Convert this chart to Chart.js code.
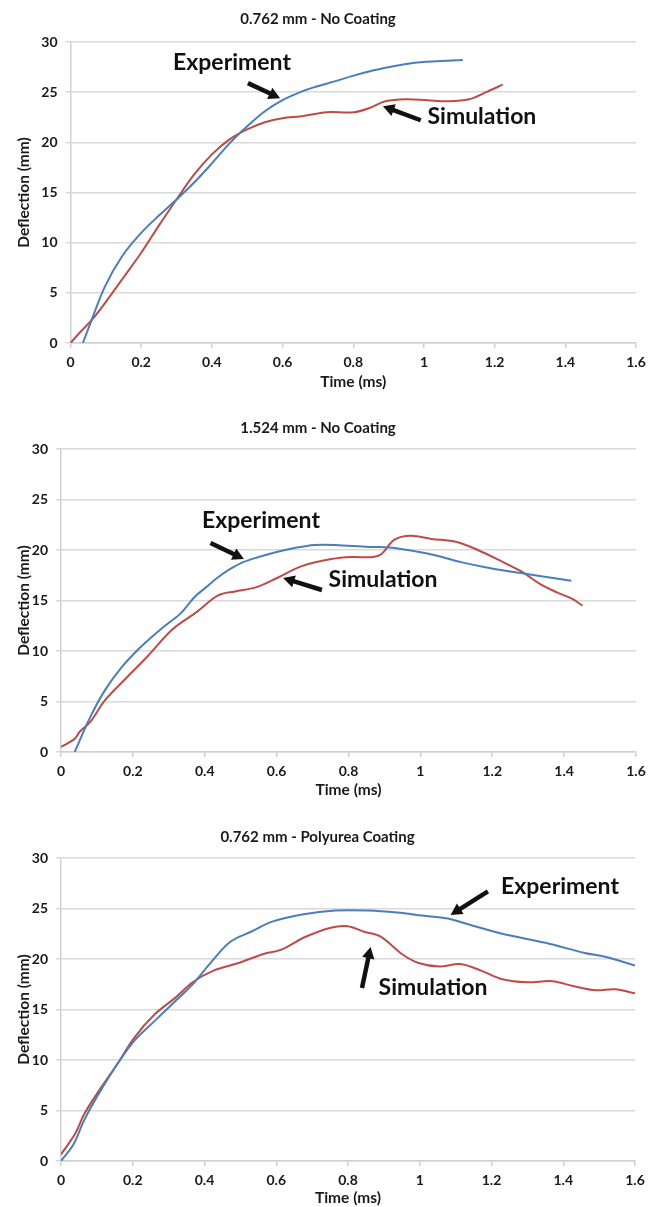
<!DOCTYPE html>
<html>
<head>
<meta charset="utf-8">
<script src="https://cdn.jsdelivr.net/npm/chart.js@4.4.1/dist/chart.umd.min.js"></script>
<style>
  body { margin: 0; background: #fff; width: 657px; height: 1207px; overflow: hidden; }
  .panel { position: absolute; left: 0; width: 657px; }
</style>
</head>
<body>
<div class="panel" style="top:0;height:400px"><canvas id="c1"></canvas></div>
<div class="panel" style="top:400px;height:405px"><canvas id="c2"></canvas></div>
<div class="panel" style="top:805px;height:402px"><canvas id="c3"></canvas></div>
<script>
// tick labels
const X_TICKS = [0, 0.2, 0.4, 0.6, 0.8, 1, 1.2, 1.4, 1.6];
const Y_TICKS = [0, 5, 10, 15, 20, 25, 30];

// 0.762 mm - No Coating
const EXP1_T = [0.035, 0.06, 0.097, 0.145, 0.198, 0.25, 0.3, 0.35, 0.4, 0.45, 0.5, 0.55, 0.6, 0.65, 0.69, 0.75, 0.796, 0.85, 0.903, 0.95, 0.998, 1.05, 1.11];
const EXP1_D = [0, 2.3, 5.6, 8.6, 10.9, 12.7, 14.3, 16.0, 17.9, 19.9, 21.6, 23.1, 24.2, 25.0, 25.5, 26.1, 26.6, 27.1, 27.5, 27.8, 28.0, 28.1, 28.2];
const SIM1_T = [0, 0.02, 0.07, 0.145, 0.2, 0.25, 0.3, 0.35, 0.4, 0.45, 0.5, 0.55, 0.6, 0.654, 0.725, 0.802, 0.844, 0.891, 0.95, 1.01, 1.069, 1.128, 1.176, 1.223];
const SIM1_D = [0, 0.8, 2.7, 6.3, 9.0, 11.7, 14.3, 16.8, 18.8, 20.3, 21.3, 22.0, 22.4, 22.6, 23.0, 23.0, 23.4, 24.1, 24.3, 24.2, 24.1, 24.3, 25.0, 25.75];

// 1.524 mm - No Coating
const EXP2_T = [0.038, 0.082, 0.122, 0.169, 0.216, 0.25, 0.286, 0.332, 0.373, 0.4, 0.437, 0.47, 0.507, 0.55, 0.6, 0.65, 0.705, 0.763, 0.857, 0.915, 0.997, 1.05, 1.113, 1.195, 1.3, 1.42];
const EXP2_D = [0, 3.5, 6.1, 8.4, 10.2, 11.3, 12.4, 13.7, 15.4, 16.2, 17.3, 18.1, 18.8, 19.3, 19.8, 20.2, 20.5, 20.5, 20.3, 20.25, 19.8, 19.4, 18.8, 18.2, 17.6, 16.95];
const SIM2_T = [0, 0.038, 0.052, 0.082, 0.122, 0.181, 0.239, 0.309, 0.379, 0.437, 0.484, 0.542, 0.6, 0.67, 0.752, 0.81, 0.868, 0.892, 0.927, 0.973, 1.031, 1.101, 1.16, 1.23, 1.28, 1.33, 1.38, 1.42, 1.451];
const SIM2_D = [0.5, 1.3, 2.0, 3.0, 5.1, 7.3, 9.4, 12.1, 13.9, 15.5, 15.9, 16.3, 17.2, 18.4, 19.1, 19.3, 19.3, 19.6, 21.0, 21.4, 21.1, 20.8, 20.0, 18.8, 17.9, 16.7, 15.8, 15.2, 14.5];

// 0.762 mm - Polyurea Coating
const EXP3_T = [0, 0.035, 0.064, 0.099, 0.157, 0.204, 0.262, 0.309, 0.367, 0.414, 0.472, 0.53, 0.589, 0.672, 0.764, 0.857, 0.937, 1.007, 1.078, 1.148, 1.23, 1.35, 1.46, 1.52, 1.6];
const EXP3_D = [0, 1.65, 4.0, 6.3, 9.6, 11.9, 13.9, 15.5, 17.5, 19.5, 21.7, 22.7, 23.7, 24.4, 24.8, 24.8, 24.6, 24.3, 24.0, 23.3, 22.5, 21.6, 20.6, 20.2, 19.35];
const SIM3_T = [0, 0.041, 0.064, 0.099, 0.157, 0.204, 0.262, 0.32, 0.367, 0.425, 0.495, 0.565, 0.612, 0.682, 0.752, 0.799, 0.845, 0.892, 0.95, 0.997, 1.055, 1.113, 1.171, 1.23, 1.3, 1.37, 1.43, 1.49, 1.544, 1.6];
const SIM3_D = [0.65, 2.8, 4.6, 6.6, 9.6, 12.2, 14.55, 16.2, 17.7, 18.85, 19.6, 20.5, 20.9, 22.2, 23.1, 23.25, 22.7, 22.2, 20.5, 19.6, 19.25, 19.5, 18.85, 18.0, 17.7, 17.8, 17.3, 16.9, 17.0, 16.6];

const BLUE = '#4a7ebb';
const RED = '#be4b48';
const INK = '#1a1a1a';
const FONT = 'Lato, "Open Sans", sans-serif';

const zip = (t, d) => t.map((x, i) => ({ x: x, y: d[i] }));

// callout labels with arrows, placed in data units
const notes = {
  id: 'notes',
  afterDatasetsDraw(chart, args, opts) {
    const ctx = chart.ctx;
    const xs = chart.scales.x, ys = chart.scales.y;
    ctx.save();
    ctx.fillStyle = '#111';
    ctx.strokeStyle = '#111';
    ctx.font = 'bold 23px ' + FONT;
    ctx.textAlign = 'center';
    ctx.textBaseline = 'middle';
    (opts.items || []).forEach(n => {
      ctx.fillText(n.text, xs.getPixelForValue(n.tx), ys.getPixelForValue(n.ty));
      const x0 = xs.getPixelForValue(n.from[0]), y0 = ys.getPixelForValue(n.from[1]);
      const x1 = xs.getPixelForValue(n.to[0]), y1 = ys.getPixelForValue(n.to[1]);
      const a = Math.atan2(y1 - y0, x1 - x0);
      const head = 13;
      ctx.lineWidth = 4.5;
      ctx.beginPath();
      ctx.moveTo(x0, y0);
      ctx.lineTo(x1 - Math.cos(a) * head * 0.7, y1 - Math.sin(a) * head * 0.7);
      ctx.stroke();
      ctx.beginPath();
      ctx.moveTo(x1, y1);
      ctx.lineTo(x1 - head * Math.cos(a - 0.5), y1 - head * Math.sin(a - 0.5));
      ctx.lineTo(x1 - head * Math.cos(a + 0.5), y1 - head * Math.sin(a + 0.5));
      ctx.closePath();
      ctx.fill();
    });
    ctx.restore();
  }
};

function makeChart(id, title, exp, sim, box, items) {
  // box: chart-area placement inside the panel
  return new Chart(document.getElementById(id), {
    type: 'scatter',
    data: {
      datasets: [
        { label: 'Experiment', data: exp, showLine: true, borderColor: BLUE, borderWidth: 2, pointRadius: 0, tension: 0.35, fill: false },
        { label: 'Simulation', data: sim, showLine: true, borderColor: RED, borderWidth: 2, pointRadius: 0, tension: 0.35, fill: false }
      ]
    },
    options: {
      responsive: true,
      maintainAspectRatio: false,
      animation: false,
      layout: { padding: { left: 0, top: 0, right: box.right, bottom: box.bottom } },
      plugins: {
        legend: { display: false },
        tooltip: { enabled: false },
        title: {
          display: true,
          text: title,
          color: INK,
          font: { family: FONT, size: 15, weight: 'bold' },
          padding: { top: box.titleTop, bottom: box.titleBottom }
        },
        notes: { items: items }
      },
      scales: {
        x: {
          type: 'linear',
          min: 0, max: 1.6,
          afterBuildTicks: s => { s.ticks = X_TICKS.map(v => ({ value: v })); },
          afterFit: s => { s.height = box.xh; },
          grid: { display: true, drawOnChartArea: false, drawTicks: true, tickLength: 5, color: '#d0d0d0', lineWidth: 1.5 },
          border: { display: true, color: '#d0d0d0', width: 1.5 },
          ticks: { color: INK, padding: 6, maxRotation: 0, font: { family: FONT, size: 14, weight: 'bold' }, callback: v => String(v) },
          title: { display: true, text: 'Time (ms)', color: INK, padding: { top: 0, bottom: 4 }, font: { family: FONT, size: 15.5, weight: 'bold' } }
        },
        y: {
          min: 0, max: 30,
          afterBuildTicks: s => { s.ticks = Y_TICKS.map(v => ({ value: v })); },
          afterFit: s => { s.width = box.left; },
          grid: { color: '#d9d9d9', lineWidth: 1.5, tickLength: 5 },
          border: { display: true, color: '#d0d0d0', width: 1.5 },
          ticks: { color: INK, padding: 8, font: { family: FONT, size: 14, weight: 'bold' } },
          title: { display: true, text: 'Deflection (mm)', color: INK, padding: { top: 15, bottom: 0 }, font: { family: FONT, size: 15.5, weight: 'bold' } }
        }
      }
    },
    plugins: [notes]
  });
}

makeChart('c1', '0.762 mm - No Coating', zip(EXP1_T, EXP1_D), zip(SIM1_T, SIM1_D),
  { left: 70.5, right: 21, bottom: 5, xh: 52, titleTop: 10, titleBottom: 14 },
  [
    { text: 'Experiment', tx: 0.457, ty: 27.9, from: [0.502, 25.9], to: [0.593, 24.4] },
    { text: 'Simulation', tx: 1.164, ty: 22.6, from: [0.991, 22.2], to: [0.884, 23.6] }
  ]);

makeChart('c2', '1.524 mm - No Coating', zip(EXP2_T, EXP2_D), zip(SIM2_T, SIM2_D),
  { left: 61, right: 21, bottom: 1.7, xh: 51.3, titleTop: 19, titleBottom: 12 },
  [
    { text: 'Experiment', tx: 0.5565, ty: 22.87, from: [0.416, 20.69], to: [0.509, 19.11] },
    { text: 'Simulation', tx: 0.896, ty: 17.03, from: [0.726, 16.04], to: [0.618, 17.23] }
  ]);

makeChart('c3', '0.762 mm - Polyurea Coating', zip(EXP3_T, EXP3_D), zip(SIM3_T, SIM3_D),
  { left: 61, right: 22, bottom: -4.3, xh: 50.3, titleTop: 23, titleBottom: 12 },
  [
    { text: 'Experiment', tx: 1.391, ty: 27.2, from: [1.19, 26.7], to: [1.086, 24.36] },
    { text: 'Simulation', tx: 1.037, ty: 17.13, from: [0.839, 17.13], to: [0.863, 21.19] }
  ]);
</script>
</body>
</html>
